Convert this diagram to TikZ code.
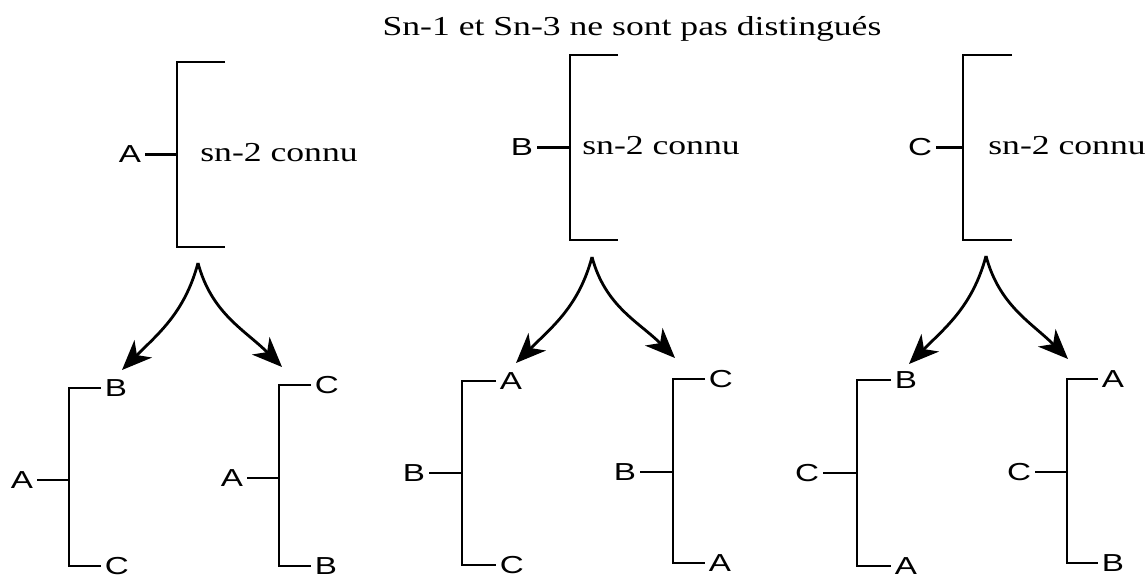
\documentclass[tikz,border=0pt]{standalone}
\usepackage{fontspec}
\setmainfont[FakeStretch=1.3]{Liberation Serif}
\setsansfont[FakeStretch=1.35]{Liberation Sans}
\usetikzlibrary{arrows.meta}

\begin{document}
\begin{tikzpicture}[x=0.02cm, y=-0.02cm,
        bond/.style={line width=1.6pt},
        split/.style={line width=1.6pt, -{Stealth[length=17pt, width=14pt, inset=5pt]}},
        letter/.style={font=\sffamily\fontsize{14}{16}\selectfont, inner sep=2pt},
        note/.style={font=\fontsize{15.6}{18}\selectfont, inner sep=0pt, anchor=base west},
      ]
      \useasboundingbox (0,0) rectangle (1146,578);

      %Title
      \node[note, anchor=base] (title) at (632,35) {Sn-1 et Sn-3 ne sont pas distingués};

      %Top brackets
      \coordinate (m1) at (177,154.5);
      \coordinate (m2) at (570,147.5);
      \coordinate (m3) at (963,147.5);

      \node[letter, anchor=east] (a1) at (145,154.5) {A};
      \node[letter, anchor=east] (a2) at (537,147.5) {B};
      \node[letter, anchor=east] (a3) at (936,147.5) {C};

      \node[note] (n1) at (200,161) {sn-2 connu};
      \node[note] (n2) at (582,154) {sn-2 connu};
      \node[note] (n3) at (988,154) {sn-2 connu};

      \draw[bond] (225,62) -- (177,62) -- (177,247) -- (225,247);
      \draw[bond] (618,55) -- (570,55) -- (570,240) -- (618,240);
      \draw[bond] (1012,55) -- (963,55) -- (963,240) -- (1012,240);

      \draw[bond] (a1) -- (m1);
      \draw[bond] (a2) -- (m2);
      \draw[bond] (a3) -- (m3);

      %Arrows
      \coordinate (p1) at (198,263);
      \coordinate (l1) at (122,370);
      \coordinate (r1) at (282,367);
      \coordinate (p2) at (592,257);
      \coordinate (l2) at (516,363);
      \coordinate (r2) at (675,358);
      \coordinate (p3) at (986,256);
      \coordinate (l3) at (909,364);
      \coordinate (r3) at (1068,359);

      \draw[split] (p1) to[out=-105, in=45] (l1);
      \draw[split] (p1) to[out=-75, in=135] (r1);
      \draw[split] (p2) to[out=-105, in=45] (l2);
      \draw[split] (p2) to[out=-75, in=135] (r2);
      \draw[split] (p3) to[out=-105, in=45] (l3);
      \draw[split] (p3) to[out=-75, in=135] (r3);

      %Bottom brackets
      \coordinate (g1m) at (69,480);
      \node[letter, anchor=east] (g1l) at (37,480) {A};
      \node[letter, anchor=west] (g1t) at (101,388) {B};
      \node[letter, anchor=west] (g1b) at (101,566) {C};
      \draw[bond] (g1t.west) -- (69,388) -- (69,566) -- (g1b.west);
      \draw[bond] (g1l) -- (g1m);

      \coordinate (g2m) at (279,478);
      \node[letter, anchor=east] (g2l) at (247,478) {A};
      \node[letter, anchor=west] (g2t) at (311,385) {C};
      \node[letter, anchor=west] (g2b) at (311,566) {B};
      \draw[bond] (g2t.west) -- (279,385) -- (279,566) -- (g2b.west);
      \draw[bond] (g2l) -- (g2m);

      \coordinate (g3m) at (462,473);
      \node[letter, anchor=east] (g3l) at (429,473) {B};
      \node[letter, anchor=west] (g3t) at (496,381) {A};
      \node[letter, anchor=west] (g3b) at (496,565) {C};
      \draw[bond] (g3t.west) -- (462,381) -- (462,565) -- (g3b.west);
      \draw[bond] (g3l) -- (g3m);

      \coordinate (g4m) at (673,472);
      \node[letter, anchor=east] (g4l) at (640,472) {B};
      \node[letter, anchor=west] (g4t) at (705,379) {C};
      \node[letter, anchor=west] (g4b) at (705,563) {A};
      \draw[bond] (g4t.west) -- (673,379) -- (673,563) -- (g4b.west);
      \draw[bond] (g4l) -- (g4m);

      \coordinate (g5m) at (857,473);
      \node[letter, anchor=east] (g5l) at (823,473) {C};
      \node[letter, anchor=west] (g5t) at (891,380) {B};
      \node[letter, anchor=west] (g5b) at (891,566) {A};
      \draw[bond] (g5t.west) -- (857,380) -- (857,566) -- (g5b.west);
      \draw[bond] (g5l) -- (g5m);

      \coordinate (g6m) at (1067,472);
      \node[letter, anchor=east] (g6l) at (1035,472) {C};
      \node[letter, anchor=west] (g6t) at (1098,379) {A};
      \node[letter, anchor=west] (g6b) at (1098,563) {B};
      \draw[bond] (g6t.west) -- (1067,379) -- (1067,563) -- (g6b.west);
      \draw[bond] (g6l) -- (g6m);
    \end{tikzpicture}
\end{document}
